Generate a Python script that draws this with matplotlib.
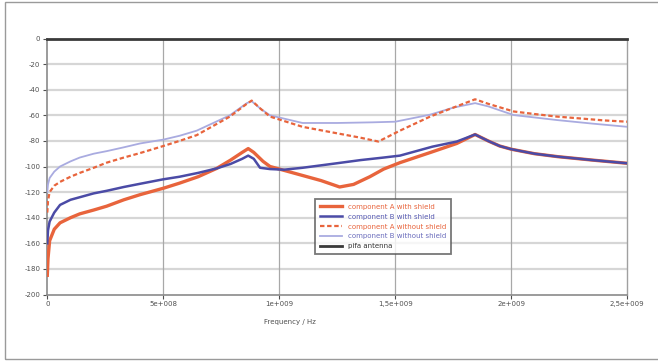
import matplotlib
matplotlib.use('Agg')
import matplotlib.pyplot as plt
from matplotlib.patches import Rectangle
import numpy as np

# frequency in GHz, level in dB
freq_a_shield = [0, 0.003, 0.01, 0.03, 0.055, 0.1, 0.14, 0.2, 0.256, 0.33, 0.40, 0.5, 0.57, 0.65,
                 0.73, 0.79, 0.84, 0.866, 0.89, 0.93, 0.96, 1.02, 1.10, 1.18, 1.26, 1.32, 1.39,
                 1.45, 1.52, 1.66, 1.765, 1.844, 1.9, 1.95, 2.0, 2.1, 2.2, 2.35, 2.5]
db_a_shield = [-185, -172, -158, -149, -144, -140, -137, -134, -131, -126, -122, -117, -113, -108,
               -101.5, -95, -89, -86, -89, -96, -100, -103, -107, -111, -116, -114, -108,
               -102, -97, -88.5, -82, -75, -80, -84, -86.5, -90, -92.3, -95, -97.5]

freq_b_shield = [0, 0.003, 0.01, 0.03, 0.055, 0.1, 0.14, 0.2, 0.256, 0.33, 0.40, 0.5, 0.57, 0.65,
                 0.73, 0.79, 0.84, 0.866, 0.89, 0.917, 0.96, 1.02, 1.1, 1.247, 1.35, 1.45, 1.52,
                 1.66, 1.765, 1.844, 1.9, 1.95, 2.0, 2.1, 2.2, 2.35, 2.5]
db_b_shield = [-160, -150, -143, -136, -130, -126, -124, -121, -119, -116, -113.5, -110, -108, -105,
               -101.5, -98, -94, -91.5, -94, -101, -102, -102.5, -101, -97.5, -95, -93, -91.5,
               -84.5, -80.5, -75, -80, -84, -86.5, -90, -92.3, -95, -97.5]

freq_a_noshield = [0, 0.003, 0.01, 0.03, 0.055, 0.1, 0.14, 0.2, 0.256, 0.33, 0.40, 0.5, 0.57, 0.644,
                   0.787, 0.86, 0.881, 0.92, 0.96, 1.03, 1.10, 1.247, 1.35, 1.427, 1.52, 1.65, 1.75,
                   1.844, 1.9, 2.01, 2.1, 2.196, 2.3, 2.4, 2.5]
db_a_noshield = [-136, -127, -120, -115, -112, -108, -105, -101, -97, -93, -89.5, -84, -80, -75.5,
                 -61, -51, -48.5, -55, -61, -65, -69, -74, -77.5, -80.5, -72, -61, -54,
                 -47.5, -51, -57, -59, -61, -62.5, -64, -65]

freq_b_noshield = [0, 0.003, 0.01, 0.03, 0.055, 0.1, 0.14, 0.2, 0.256, 0.33, 0.40, 0.5, 0.57, 0.644,
                   0.787, 0.86, 0.881, 0.92, 0.96, 1.1, 1.25, 1.4, 1.5, 1.65, 1.75, 1.844, 1.9,
                   2.01, 2.196, 2.35, 2.5]
db_b_noshield = [-120, -114, -109, -104, -100, -96, -93, -90, -88, -85, -82, -79, -76, -72,
                 -60, -50.5, -49, -55, -60, -66, -66, -65.5, -65, -59.5, -54, -50.5, -53,
                 -59.8, -63.7, -66.5, -69]

freq_pifa = [0, 2.5]
db_pifa = [0, 0]

labels = ["component A with shield", "component B with shield",
          "component A without shield", "component B without shield", "pifa antenna"]
x_ticks = [0, 0.5, 1.0, 1.5, 2.0, 2.5]
x_tick_labels = ["0", "5e+008", "1e+009", "1,5e+009", "2e+009", "2,5e+009"]
y_ticks = [0, -20, -40, -60, -80, -100, -120, -140, -160, -180, -200]

RED = '#e8643c'
BLUE = '#4b4ba6'
LBLUE = '#a9abe0'

fig = plt.figure(figsize=(6.58, 3.63), dpi=100)
fig.patches.append(Rectangle((5/658, 4/363), 1.2, 357.5/363, transform=fig.transFigure,
                             fill=False, edgecolor='#9a9a9a', linewidth=1.0))
ax = fig.add_axes([47.3/658, 68.5/363, 580/658, 256/363])

l4, = ax.plot(freq_b_noshield, db_b_noshield, color=LBLUE, lw=1.3, label=labels[3], zorder=3)
l3, = ax.plot(freq_a_noshield, db_a_noshield, color=RED, lw=1.6, ls=(0, (2.0, 1.2)), label=labels[2], zorder=4)
l1, = ax.plot(freq_a_shield, db_a_shield, color=RED, lw=2.4, label=labels[0], zorder=5)
l2, = ax.plot(freq_b_shield, db_b_shield, color=BLUE, lw=1.8, label=labels[1], zorder=6)
l5, = ax.plot(freq_pifa, db_pifa, color='#3a3a3a', lw=2.0, label=labels[4], zorder=7, clip_on=False)

ax.set_xlim(0, 2.5)
ax.set_ylim(-200, 0)
ax.set_xticks(x_ticks)
ax.set_xticklabels(x_tick_labels)
ax.set_yticks(y_ticks)
ax.set_yticklabels([str(v) for v in y_ticks])
ax.tick_params(axis='both', labelsize=5, colors='#505050', length=3, width=0.8, pad=2)

for y in y_ticks[1:-1]:
    ax.axhline(y, color='#d6d6d6', lw=1.6, zorder=1)
for x in x_ticks[1:-1]:
    ax.axvline(x, color='#a8a8a8', lw=0.9, zorder=1)

for side in ['left', 'bottom']:
    ax.spines[side].set_color('#8a8a8a')
    ax.spines[side].set_linewidth(1.2)
ax.spines['right'].set_color('#a0a0a0')
ax.spines['right'].set_linewidth(1.0)
ax.spines['top'].set_visible(False)

ax.set_xlabel("Frequency / Hz", fontsize=5, color='#505050', labelpad=5)
ax.xaxis.set_label_coords(0.418, -0.095)

leg = ax.legend(handles=[l1, l2, l3, l4, l5], loc='upper left', bbox_to_anchor=(0.462, 0.373),
                fontsize=5, frameon=True, fancybox=False, handlelength=3.2, handletextpad=0.8,
                borderpad=0.7, labelspacing=0.55, borderaxespad=0,
                labelcolor=[RED, '#5558b0', RED, '#6a6cbc', '#333333'])
leg.get_frame().set_edgecolor('#555555')
leg.get_frame().set_linewidth(1.3)
leg.set_zorder(10)

fig.savefig('out.png', dpi=100)
